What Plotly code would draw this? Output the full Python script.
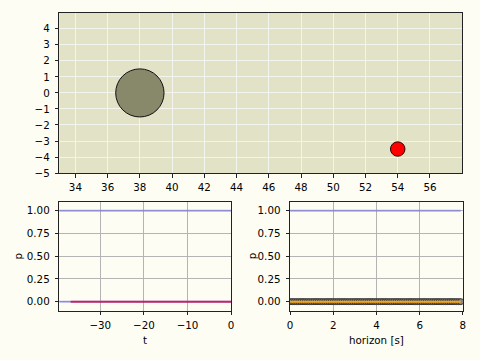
import numpy as np
import plotly.graph_objects as go

# ---- data ----
obstacle_x = [38.0]
obstacle_y = [0.0]
obstacle_r = [1.5]
agent_x = [54.0]
agent_y = [-3.5]
agent_r = [0.45]

top_xticks = [34, 36, 38, 40, 42, 44, 46, 48, 50, 52, 54, 56]
top_yticks = [-5, -4, -3, -2, -1, 0, 1, 2, 3, 4]

t_hist = [-39.4, 0.0]
p_hist_hi = [1.0, 1.0]
p_hist_lo = [0.0, 0.0]
t_red = [-36.8, 0.0]
p_red = [0.0, 0.0]

horizon = np.arange(0.0, 7.95, 0.1)
p_pred_hi = [1.0] * len(horizon)
p_pred = [0.0] * len(horizon)

bl_xticks = [-30, -20, -10, 0]
p_ticks = [0.0, 0.25, 0.5, 0.75, 1.0]
p_ticktext = ["0.00", "0.25", "0.50", "0.75", "1.00"]
br_xticks = [0, 2, 4, 6, 8]

W, H = 480, 360
FONT = dict(family="DejaVu Sans", size=10.3, color="black")
BLUE = "rgba(110,110,235,0.55)"

fig = go.Figure()

# bottom-left
fig.add_trace(go.Scatter(x=t_hist, y=p_hist_hi, mode="lines", line=dict(color=BLUE, width=2),
                         xaxis="x2", yaxis="y2", showlegend=False))
fig.add_trace(go.Scatter(x=t_hist, y=p_hist_lo, mode="lines", line=dict(color=BLUE, width=2),
                         xaxis="x2", yaxis="y2", showlegend=False))
fig.add_trace(go.Scatter(x=t_red, y=p_red, mode="lines", line=dict(color="rgba(200,20,80,0.85)", width=2),
                         xaxis="x2", yaxis="y2", showlegend=False))

# bottom-right
fig.add_trace(go.Scatter(x=horizon, y=p_pred_hi, mode="lines", line=dict(color=BLUE, width=2),
                         xaxis="x3", yaxis="y3", showlegend=False))
fig.add_trace(go.Scatter(x=horizon, y=p_pred, mode="markers",
                         marker=dict(size=6, color="#8a8a8a", line=dict(color="#303030", width=1)),
                         xaxis="x3", yaxis="y3", showlegend=False))
fig.add_trace(go.Scatter(x=horizon, y=p_pred, mode="lines", line=dict(color="orange", width=2),
                         xaxis="x3", yaxis="y3", showlegend=False))

# top: shapes
shapes = []
for cx, cy, r in zip(obstacle_x, obstacle_y, obstacle_r):
    shapes.append(dict(type="circle", xref="x", yref="y", x0=cx - r, x1=cx + r, y0=cy - r, y1=cy + r,
                       fillcolor="#88886a", line=dict(color="#111111", width=1)))
for cx, cy, r in zip(agent_x, agent_y, agent_r):
    shapes.append(dict(type="circle", xref="x", yref="y", x0=cx - r, x1=cx + r, y0=cy - r, y1=cy + r,
                       fillcolor="#ff0000", line=dict(color="#300000", width=1)))
# invisible trace to anchor top axes
fig.add_trace(go.Scatter(x=obstacle_x + agent_x, y=obstacle_y + agent_y, mode="markers",
                         marker=dict(size=1, opacity=0), xaxis="x", yaxis="y", showlegend=False,
                         hoverinfo="skip"))


def px_x(p):
    return p / W


def px_y(p):
    return 1 - p / H


common = dict(showline=True, mirror=True, linecolor="#222222", linewidth=1, ticks="outside",
              ticklen=3.5, tickcolor="#222222", tickfont=FONT, zeroline=False)

fig.update_layout(
    width=W, height=H, autosize=False, margin=dict(l=0, r=0, t=0, b=0, pad=0),
    paper_bgcolor="#fdfdf4", plot_bgcolor="#fdfdf4", font=FONT,
    shapes=shapes,
    xaxis=dict(domain=[px_x(57), px_x(465)], range=[33, 58], tickvals=top_xticks, ticklabelstandoff=1,
               showgrid=True, gridcolor="#f4f4ee", gridwidth=1, anchor="y", **common),
    yaxis=dict(domain=[px_y(176), px_y(13)], range=[-5, 5], tickvals=top_yticks, ticklabelstandoff=3,
               showgrid=True, gridcolor="#f4f4ee", gridwidth=1, anchor="x", **common),
    xaxis2=dict(domain=[px_x(57), px_x(231)], range=[-39.4, 0], tickvals=bl_xticks, ticklabelstandoff=1,
                showgrid=True, gridcolor="#b4b4b4", anchor="y2", **common),
    yaxis2=dict(domain=[px_y(316), px_y(205)], range=[-0.1, 1.1], tickvals=p_ticks, ticktext=p_ticktext,
                ticklabelstandoff=3,
                showgrid=True, gridcolor="#b4b4b4", anchor="x2", **common),
    xaxis3=dict(domain=[px_x(290.7), px_x(465.7)], range=[0, 8], tickvals=br_xticks, ticklabelstandoff=1,
                showgrid=True, gridcolor="#b4b4b4", anchor="y3", **common),
    yaxis3=dict(domain=[px_y(316), px_y(205)], range=[-0.1, 1.1], tickvals=p_ticks, ticktext=p_ticktext,
                ticklabelstandoff=3,
                showgrid=True, gridcolor="#b4b4b4", anchor="x3", **common),
)

# plot background for top axes (olive-grey)
fig.add_shape(type="rect", xref="x domain", yref="y domain", x0=0, x1=1, y0=0, y1=1,
              fillcolor="#e2e2c6", line=dict(width=0), layer="below")

# axis titles, placed relative to axes in pixels
fig.add_annotation(text="t", xref="x2 domain", yref="y2 domain", x=0.5, y=0, yanchor="top",
                   xanchor="center", yshift=-21, showarrow=False, font=FONT)
fig.add_annotation(text="horizon [s]", xref="x3 domain", yref="y3 domain", x=0.5, y=0, yanchor="top",
                   xanchor="center", yshift=-21, showarrow=False, font=FONT)
fig.add_annotation(text="p", xref="x2 domain", yref="y2 domain", x=0, y=0.5, xanchor="center",
                   yanchor="middle", xshift=-41, textangle=-90, showarrow=False, font=FONT)
fig.add_annotation(text="p", xref="x3 domain", yref="y3 domain", x=0, y=0.5, xanchor="center",
                   yanchor="middle", xshift=-38, textangle=-90, showarrow=False, font=FONT)

fig.write_html("out.html", config={"displayModeBar": False, "staticPlot": True},
               post_script="document.body.style.margin='0';document.body.style.overflow='hidden';"
                           "document.body.style.background='#fdfdf4';")
